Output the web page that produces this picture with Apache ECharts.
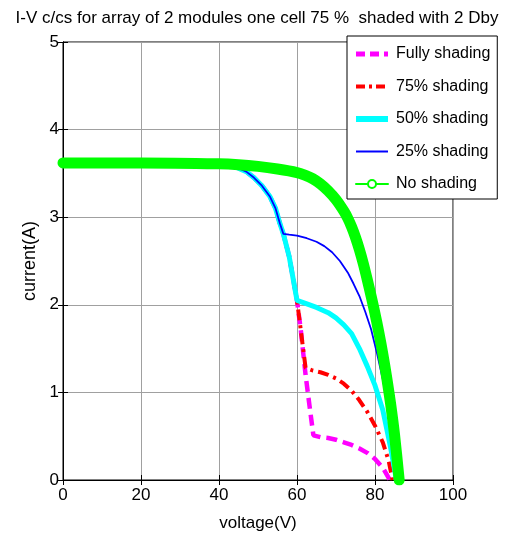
<!DOCTYPE html>
<html>
<head>
<meta charset="utf-8">
<script src="https://cdn.jsdelivr.net/npm/echarts@6/dist/echarts.min.js"></script>
<style>html,body{margin:0;padding:0;background:#fff}#c{width:507px;height:539px}</style>
</head>
<body>
<div id="c"></div>
<script>
// ---- data (voltage V, current A) ----
const noShadeV = [0, 20, 40, 45, 50, 55, 60, 62, 64, 66, 68, 70, 72, 73, 74, 75, 76, 77, 78, 79, 80, 81, 82, 83, 84, 85, 86.2];
const noShadeI = [3.62, 3.62, 3.61, 3.6, 3.58, 3.55, 3.51, 3.48, 3.44, 3.38, 3.3, 3.2, 3.07, 2.99, 2.89, 2.77, 2.63, 2.47, 2.29, 2.1, 1.9, 1.68, 1.44, 1.17, 0.87, 0.52, 0];

const s25V = [0, 20, 40, 42, 45, 47, 49, 51, 53, 54.5, 55.6, 56.5, 58, 60, 62.5, 65, 67, 69, 71, 73, 74.5, 76, 77.5, 79, 80.5, 82, 83.5, 85, 85.7];
const s25I = [3.62, 3.62, 3.61, 3.6, 3.56, 3.52, 3.45, 3.36, 3.24, 3.1, 2.93, 2.81, 2.8, 2.79, 2.76, 2.72, 2.67, 2.6, 2.5, 2.37, 2.24, 2.1, 1.92, 1.72, 1.45, 1.15, 0.8, 0.35, 0];

const s50V = [0, 20, 40, 42, 45, 47, 49, 51, 53, 54.5, 55.6, 56.5, 58, 59, 60, 62, 65, 68, 70, 72, 74, 76, 78, 80, 82, 84, 85.5];
const s50I = [3.62, 3.62, 3.61, 3.6, 3.56, 3.52, 3.45, 3.36, 3.24, 3.1, 2.93, 2.81, 2.55, 2.3, 2.05, 2.02, 1.97, 1.91, 1.85, 1.77, 1.67, 1.5, 1.3, 1.08, 0.8, 0.37, 0];

const s75V = [0, 20, 40, 42, 45, 47, 49, 51, 53, 54.5, 55.6, 56.5, 58, 59, 60, 61, 62.2, 64, 66, 68, 70, 72, 74, 76, 78, 80, 82, 83.5, 84.5];
const s75I = [3.62, 3.62, 3.61, 3.6, 3.56, 3.52, 3.45, 3.36, 3.24, 3.1, 2.93, 2.81, 2.55, 2.3, 2.05, 1.7, 1.28, 1.25, 1.23, 1.2, 1.16, 1.1, 1.02, 0.91, 0.78, 0.62, 0.43, 0.22, 0];

const fullV = [0, 20, 40, 42, 45, 47, 49, 51, 53, 54.5, 55.6, 56.5, 58, 59, 60, 61, 62.2, 63.2, 64.2, 66, 68, 70, 72, 74, 76, 78, 80, 82, 83.8];
const fullI = [3.62, 3.62, 3.61, 3.6, 3.56, 3.52, 3.45, 3.36, 3.24, 3.1, 2.93, 2.81, 2.55, 2.3, 2.05, 1.7, 1.2, 0.85, 0.51, 0.49, 0.48, 0.46, 0.43, 0.4, 0.36, 0.31, 0.24, 0.14, 0];

const xTicks = [0, 20, 40, 60, 80, 100];
const yTicks = [0, 1, 2, 3, 4, 5];
const names = ['Fully shading', '75% shading', '50% shading', '25% shading', 'No shading'];
const titleText = 'I-V c/cs for array of 2 modules one cell 75 %  shaded with 2 Dby';

const pairs = (vs, is) => vs.map((v, k) => [v, is[k]]);
const FONT = "'Liberation Sans', Arial, sans-serif";

const chart = echarts.init(document.getElementById('c'), null, {renderer: 'canvas'});
const axisCommon = {
  axisLine: {show: true, lineStyle: {color: '#000', width: 1}},
  axisTick: {show: true, inside: true, length: 5, lineStyle: {color: '#000'}}
};
const hideDot = {opacity: 0};
chart.setOption({
  backgroundColor: '#fff',
  animation: false,
  title: {
    text: titleText, left: 257, top: 10, textAlign: 'center', padding: 0,
    textStyle: {fontFamily: FONT, fontSize: 17, fontWeight: 'normal', color: '#000'}
  },
  grid: {left: 63, right: 54, top: 42, bottom: 59, show: true, borderColor: '#000', borderWidth: 1, backgroundColor: '#fff'},
  legend: {
    orient: 'vertical', left: 347, top: 36,
    padding: [10, 7, 7, 6],
    itemWidth: 32, itemHeight: 10, itemGap: 16.5,
    backgroundColor: '#fff', borderColor: '#000', borderWidth: 1, borderRadius: 0,
    textStyle: {fontFamily: FONT, fontSize: 16, color: '#000', padding: [0, 0, 0, 3]},
    data: [
      {name: names[0], itemStyle: hideDot, lineStyle: {width: 5, type: [9, 5]}},
      {name: names[1], itemStyle: hideDot, lineStyle: {width: 4, type: [9, 4, 3, 4]}},
      {name: names[2], itemStyle: hideDot, lineStyle: {width: 6}},
      {name: names[3], itemStyle: hideDot, lineStyle: {width: 2}},
      {name: names[4], lineStyle: {width: 2}, itemStyle: {color: '#00ff00'}}
    ]
  },
  xAxis: [{
    type: 'value', min: 0, max: 100, interval: 20, position: 'bottom',
    name: 'voltage(V)', nameLocation: 'middle', nameGap: 35,
    nameTextStyle: {fontFamily: FONT, fontSize: 17, color: '#000'},
    axisLabel: {fontFamily: FONT, fontSize: 17, color: '#000', margin: 7,
      formatter: v => xTicks.includes(v) ? String(v) : ''},
    splitLine: {show: true, lineStyle: {color: '#a0a0a0', width: 1}},
    ...axisCommon
  }, {
    type: 'value', min: 0, max: 100, interval: 20, position: 'top',
    axisLabel: {show: false}, splitLine: {show: false}, ...axisCommon
  }],
  yAxis: [{
    type: 'value', min: 0, max: 5, interval: 1, position: 'left',
    name: 'current(A)', nameLocation: 'middle', nameGap: 17, nameRotate: 90,
    nameTextStyle: {fontFamily: FONT, fontSize: 18, color: '#000'},
    axisLabel: {fontFamily: FONT, fontSize: 17, color: '#000', margin: 4,
      formatter: v => yTicks.includes(v) ? String(v) : ''},
    splitLine: {show: true, lineStyle: {color: '#a0a0a0', width: 1}},
    ...axisCommon
  }, {
    type: 'value', min: 0, max: 5, interval: 1, position: 'right',
    axisLabel: {show: false}, splitLine: {show: false}, ...axisCommon
  }],
  series: [
    {name: names[0], type: 'line', symbol: 'none', data: pairs(fullV, fullI),
      lineStyle: {color: '#ff00ff', width: 4.5, type: [11, 6]}, itemStyle: {color: '#ff00ff'}},
    {name: names[1], type: 'line', symbol: 'none', data: pairs(s75V, s75I),
      lineStyle: {color: '#ff0000', width: 4, type: [11, 5, 3, 5]}, itemStyle: {color: '#ff0000'}},
    {name: names[2], type: 'line', symbol: 'none', data: pairs(s50V, s50I),
      lineStyle: {color: '#00ffff', width: 5}, itemStyle: {color: '#00ffff'}},
    {name: names[3], type: 'line', symbol: 'none', data: pairs(s25V, s25I),
      lineStyle: {color: '#0000ff', width: 1.8}, itemStyle: {color: '#0000ff'}},
    {name: names[4], type: 'line', symbol: 'emptyCircle', symbolSize: 8, showSymbol: false,
      smooth: 0.3,
      data: pairs(noShadeV, noShadeI),
      lineStyle: {color: '#00ff00', width: 11, cap: 'round', join: 'round'},
      itemStyle: {color: '#00ff00', borderColor: '#00ff00'}},
    {name: 'end', type: 'scatter', symbol: 'emptyCircle', symbolSize: 8,
      data: [[noShadeV[noShadeV.length - 1], noShadeI[noShadeI.length - 1]]],
      itemStyle: {color: '#00ff00', borderColor: '#00ff00', borderWidth: 1.5}}
  ]
});
</script>
</body>
</html>
